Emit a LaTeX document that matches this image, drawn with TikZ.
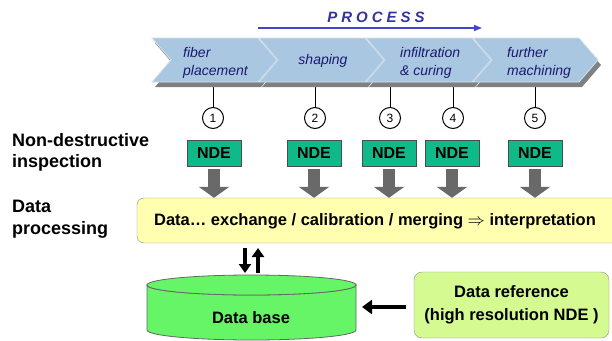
\documentclass[tikz,border=0pt]{standalone}
\usepackage{fontspec}
\setmainfont{Liberation Sans}
\usetikzlibrary{arrows.meta}
\definecolor{chevfill}{RGB}{170,199,226}
\definecolor{chevedge}{RGB}{210,224,238}
\definecolor{chevshadow}{RGB}{128,128,128}
\definecolor{chevtext}{RGB}{25,25,110}
\definecolor{ndefill}{RGB}{16,186,136}
\definecolor{datafill}{RGB}{255,255,175}
\definecolor{dbfill}{RGB}{102,245,102}
\definecolor{reffill}{RGB}{212,250,145}
\definecolor{procblue}{RGB}{51,51,160}
\definecolor{procline}{RGB}{70,70,205}
\definecolor{arrgray}{RGB}{105,105,105}
\newcommand\chevpath[1]{(#1,38) -- ++(106,0) -- ++(19,22) -- ++(-19,22) -- ++(-106,0) -- ++(19,-22) -- cycle}
\begin{document}
\begin{tikzpicture}[x=1pt,y=-1pt,
  chevtxt/.style={font=\fontsize{14}{18}\selectfont\itshape, text=chevtext, align=left, inner sep=0pt},
  numcirc/.style={circle, draw, line width=1pt, minimum size=21pt, inner sep=0pt, font=\fontsize{12}{14}\selectfont, fill=white},
  ndebox/.style={rectangle, draw=black!70, fill=ndefill, minimum width=54pt, minimum height=26pt, inner sep=0pt, font=\fontsize{16}{18}\selectfont\bfseries},
  grayarrow/.style={draw=arrgray, line width=12pt, -{Triangle[length=11pt,width=30pt]}},
  blkarrow/.style={draw=black, line width=3.2pt, -{Triangle[length=9pt,width=12pt]}},
  sidelabel/.style={anchor=north west, align=left, inner sep=0pt, font=\fontsize{18}{21.5}\selectfont\bfseries},
  bigtxt/.style={font=\fontsize{16.5}{23}\selectfont\bfseries, inner sep=0pt, align=center}]
\clip (0,0) rectangle (612,340);
\fill[white] (0,0) rectangle (612,340);

% PROCESS header
\node[font=\fontsize{15}{18}\selectfont\bfseries\itshape, text=procblue, inner sep=0pt] (proc) at (376,17)
  {P\kern4pt R\kern4pt O\kern4pt C\kern4pt E\kern4pt S\kern4pt S};
\coordinate (pa) at (258,28);
\coordinate (pb) at (482,28);
\draw[procline, line width=1.6pt, -{Triangle[length=8pt,width=6pt]}] (pa) -- (pb);

% circles and leader lines
\node[numcirc] (c1) at (213,118) {1};
\node[numcirc] (c2) at (315,118) {2};
\node[numcirc] (c3) at (390,118) {3};
\node[numcirc] (c4) at (453,118) {4};
\node[numcirc] (c5) at (535,118) {5};
\foreach \i/\x in {1/213,2/315,3/390,4/453,5/535}{
  \coordinate (top\i) at (\x,80);
  \draw[line width=1pt] (top\i) -- (c\i.north);
}

% chevrons
\foreach \x in {152,259,366,473}{
  \fill[chevshadow] [shift={(3,5)}] \chevpath{\x};
}
\foreach \x in {152,259,366,473}{
  \filldraw[fill=chevfill, draw=chevedge, line width=0.8pt] \chevpath{\x};
}
\node[chevtxt, anchor=west] (t1) at (183,63) {fiber\\placement};
\node[chevtxt] (t2) at (323,61) {shaping};
\node[chevtxt, anchor=west] (t3) at (400,63) {infiltration\\\& curing};
\node[chevtxt, anchor=west] (t4) at (507,63) {further\\machining};

% side labels
\node[sidelabel] (lab1) at (12,133) {Non-destructive\\inspection};
\node[sidelabel] (lab2) at (12,200) {Data\\processing};

% NDE boxes
\node[ndebox] (n1) at (214,153) {NDE};
\node[ndebox] (n2) at (314,153) {NDE};
\node[ndebox] (n3) at (389,153) {NDE};
\node[ndebox] (n4) at (452,153) {NDE};
\node[ndebox] (n5) at (535,153) {NDE};

% data processing box
\node[draw=black!45, fill=datafill, rounded corners=7pt, minimum width=483pt, minimum height=45pt, inner sep=0pt] (data) at (378.5,220.5) {};
\node[bigtxt] (datatxt) at (375,221) {Data\ldots\ exchange / calibration / merging $\Rightarrow$ interpretation};

% gray arrows
\foreach \i in {1,...,5}{
  \draw[grayarrow] ([yshift=-3pt]n\i.south) -- (n\i.south |- data.north);
}

% database cylinder
\filldraw[fill=dbfill, draw=black!60, line width=0.8pt]
  (147,285) -- (147,330) arc[start angle=180, end angle=0, x radius=104.5, y radius=10]
  -- (356,285) arc[start angle=0, end angle=180, x radius=104.5, y radius=10] -- cycle;
\filldraw[fill=dbfill, draw=black!60, line width=0.8pt] (251.5,285) ellipse[x radius=104.5, y radius=10];
\node[bigtxt] (db) at (251,318) {Data base};

% up/down arrows
\coordinate (dA) at (245,248);
\coordinate (dB) at (245,273);
\coordinate (uA) at (258,273);
\coordinate (uB) at (258,248);
\draw[blkarrow] (dA) -- (dB);
\draw[blkarrow] (uA) -- (uB);

% data reference
\node[draw=black!45, fill=reffill, rounded corners=8pt, minimum width=195pt, minimum height=66pt, bigtxt, inner sep=0pt] (ref) at (511.5,305) {Data reference\\(high resolution NDE )};
\coordinate (dbe) at (362,307);
\draw[blkarrow, line width=3.6pt, -{Triangle[length=10pt,width=14pt]}] ([xshift=-8pt]ref.west |- dbe) -- (dbe);
\end{tikzpicture}
\end{document}
